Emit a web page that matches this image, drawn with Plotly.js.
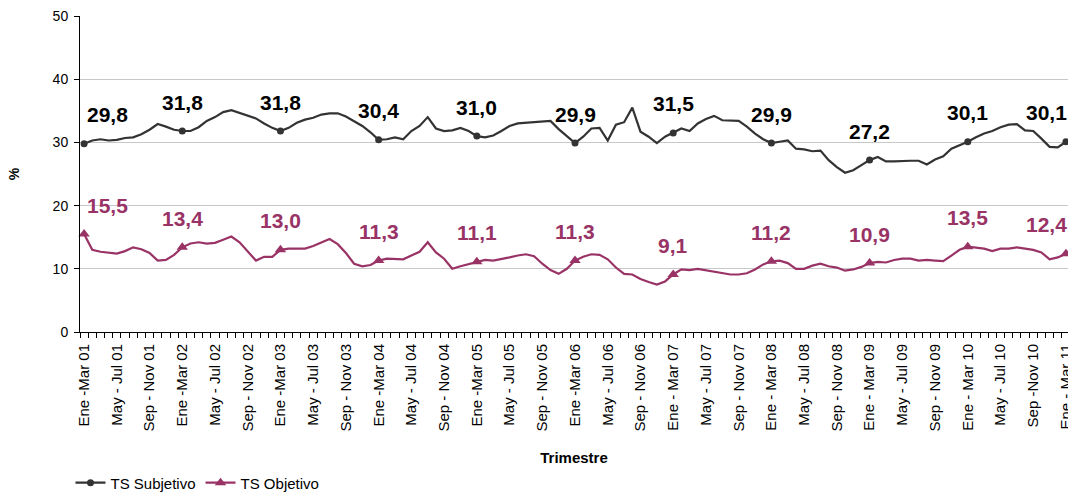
<!DOCTYPE html>
<html>
<head>
<meta charset="utf-8">
<script src="https://cdn.plot.ly/plotly-3.0.1.min.js"></script>
<style>
  html, body { margin: 0; padding: 0; background: #fff; }
  #graph { width: 1068px; height: 492px; }
</style>
</head>
<body>
<div id="graph"></div>
<script>
// trimestres moviles, Ene-Mar 01 .. Ene-Mar 11
var subjetivo = [
  29.8, 30.3, 30.5, 30.3, 30.4, 30.7, 30.8, 31.3, 32.0, 32.9,
  32.5, 32.0, 31.8, 31.8, 32.4, 33.4, 34.0, 34.8, 35.1, 34.7,
  34.3, 33.8, 33.0, 32.3, 31.8, 32.3, 33.1, 33.6, 33.9, 34.4,
  34.6, 34.6, 34.1, 33.4, 32.6, 31.6, 30.4, 30.5, 30.8, 30.5,
  31.8, 32.6, 34.0, 32.2, 31.8, 31.9, 32.3, 31.8, 31.0, 30.8,
  31.1, 31.8, 32.6, 33.0, 33.1, 33.3, 33.4, 33.4, 32.1, 31.0,
  29.9, 30.9, 32.2, 32.3, 30.3, 32.8, 33.2, 35.5, 31.7, 30.9,
  29.9, 30.9, 31.5, 32.2, 31.8, 33.0, 33.7, 34.2, 33.5, 33.5,
  33.4, 32.5, 31.4, 30.5, 29.9, 30.1, 30.3, 29.0, 28.9, 28.6,
  28.7, 27.2, 26.1, 25.2, 25.6, 26.4, 27.2, 27.7, 27.0, 27.0,
  27.1, 27.1, 27.1, 26.5, 27.3, 27.8, 29.0, 29.5, 30.1, 30.8,
  31.4, 31.8, 32.4, 32.8, 32.9, 31.9, 31.8, 30.6, 29.3, 29.2,
  30.1
];
var objetivo = [
  15.5, 13.0, 12.7, 12.5, 12.4, 12.8, 13.4, 13.1, 12.5, 11.3,
  11.4, 12.2, 13.4, 14.0, 14.2, 14.0, 14.1, 14.6, 15.1, 14.2,
  12.8, 11.3, 11.9, 11.9, 13.0, 13.2, 13.2, 13.2, 13.6, 14.1,
  14.7, 13.9, 12.5, 10.8, 10.4, 10.6, 11.3, 11.6, 11.6, 11.5,
  12.1, 12.7, 14.2, 12.6, 11.6, 10.0, 10.4, 10.7, 11.1, 11.4,
  11.3, 11.5, 11.8, 12.1, 12.3, 12.0, 10.8, 9.8, 9.2, 10.0,
  11.3, 11.9, 12.3, 12.2, 11.5, 10.2, 9.2, 9.1, 8.4, 7.9,
  7.5, 8.0, 9.1, 9.9, 9.8, 10.0, 9.8, 9.6, 9.3, 9.1,
  9.1, 9.3, 9.9, 10.7, 11.2, 11.3, 10.9, 10.0, 10.0, 10.5,
  10.8, 10.4, 10.2, 9.7, 9.9, 10.3, 10.9, 11.1, 11.0, 11.4,
  11.6, 11.6, 11.3, 11.4, 11.3, 11.2, 12.1, 13.0, 13.5, 13.3,
  13.2, 12.8, 13.2, 13.2, 13.4, 13.2, 13.0, 12.6, 11.5, 11.8,
  12.4
];
var tickLabels = [
  "Ene -Mar 01", "May - Jul 01", "Sep - Nov 01",
  "Ene -Mar 02", "May - Jul 02", "Sep - Nov 02",
  "Ene -Mar 03", "May - Jul 03", "Sep - Nov 03",
  "Ene -Mar 04", "May - Jul 04", "Sep - Nov 04",
  "Ene -Mar 05", "May - Jul 05", "Sep - Nov 05",
  "Ene -Mar 06", "May - Jul 06", "Sep - Nov 06",
  "Ene - Mar 07", "May - Jul 07", "Sep - Nov 07",
  "Ene - Mar 08", "May - Jul 08", "Sep - Nov 08",
  "Ene - Mar 09", "May - Jul 09", "Sep - Nov 09",
  "Ene - Mar 10", "May - Jul 10", "Sep -Nov 10",
  "Ene - Mar 11"
];

var negro = "#333333";
var morado = "#993366";

var idx = subjetivo.map(function(v, i) { return i; });
var tickPos = tickLabels.map(function(t, k) { return k * 4; });
var anual = idx.filter(function(i) { return i % 12 === 0; });
var last = idx.length - 1;

function fmt(v) { return v.toFixed(1).replace(".", ","); }

var annotations = [];
function addLabels(serie, color) {
  anual.forEach(function(i) {
    var a = {
      x: i, y: serie[i], xref: "x", yref: "y",
      text: fmt(serie[i]), showarrow: false,
      font: {size: 21, color: color, weight: "bold"},
      yanchor: "middle", yshift: 29, xanchor: "center"
    };
    if (i === 0) { a.xanchor = "left"; a.xshift = 1; }
    if (i === last) { a.xanchor = "right"; a.xshift = 3; }
    annotations.push(a);
  });
}
addLabels(subjetivo, "#000000");
addLabels(objetivo, morado);

var data = [
  {x: idx, y: subjetivo, mode: "lines", line: {color: negro, width: 2.2},
   showlegend: false, hoverinfo: "skip"},
  {x: idx, y: objetivo, mode: "lines", line: {color: morado, width: 2.2},
   showlegend: false, hoverinfo: "skip"},
  {x: anual, y: anual.map(function(i) { return subjetivo[i]; }), mode: "markers",
   marker: {symbol: "circle", size: 7, color: negro}, showlegend: false, cliponaxis: false},
  {x: anual, y: anual.map(function(i) { return objetivo[i]; }), mode: "markers",
   marker: {symbol: "triangle-up", size: 10, color: morado}, showlegend: false, cliponaxis: false},
  {x: [null], y: [null], name: "TS Subjetivo", mode: "lines+markers",
   line: {color: negro, width: 2.2}, marker: {symbol: "circle", size: 7, color: negro}},
  {x: [null], y: [null], name: "TS Objetivo", mode: "lines+markers",
   line: {color: morado, width: 2.2}, marker: {symbol: "triangle-up", size: 10, color: morado}}
];

var layout = {
  width: 1068,
  height: 492,
  margin: {l: 80, r: 0, t: 16, b: 160},
  paper_bgcolor: "#ffffff",
  plot_bgcolor: "#ffffff",
  font: {family: "Arial, 'Liberation Sans', sans-serif", size: 14, color: "#000"},
  showlegend: true,
  xaxis: {
    range: [-0.5, 120.25],
    tickmode: "array",
    tickvals: tickPos,
    ticktext: tickLabels,
    tickangle: -90,
    ticks: "",
    tickfont: {size: 15},
    ticklabelstandoff: 5,
    ticklabeloverflow: "allow",
    showline: true, linecolor: "#000", linewidth: 1,
    showgrid: false, zeroline: false,
    minor: {tick0: -0.5, dtick: 1, ticks: "outside", ticklen: 5, tickcolor: "#000", tickwidth: 1, showgrid: false},
    title: {text: "Trimestre", font: {size: 15, weight: "bold"}, standoff: 36}
  },
  yaxis: {
    range: [0, 50],
    dtick: 10,
    ticks: "outside", ticklen: 5, tickcolor: "#000",
    tickfont: {size: 14},
    ticklabelstandoff: 3,
    showline: true, linecolor: "#000", linewidth: 1,
    gridcolor: "#c8c8c8", gridwidth: 1,
    zeroline: false,
    title: {text: "%", font: {size: 14, weight: "bold"}, standoff: 29}
  },
  legend: {
    orientation: "h",
    xref: "container", yref: "container",
    x: 0.066, y: 0.052,
    xanchor: "left", yanchor: "top",
    font: {size: 15},
    itemwidth: 30,
    bgcolor: "rgba(0,0,0,0)"
  },
  annotations: annotations
};

Plotly.newPlot(document.getElementById("graph"), data, layout, {staticPlot: true});
</script>
</body>
</html>
